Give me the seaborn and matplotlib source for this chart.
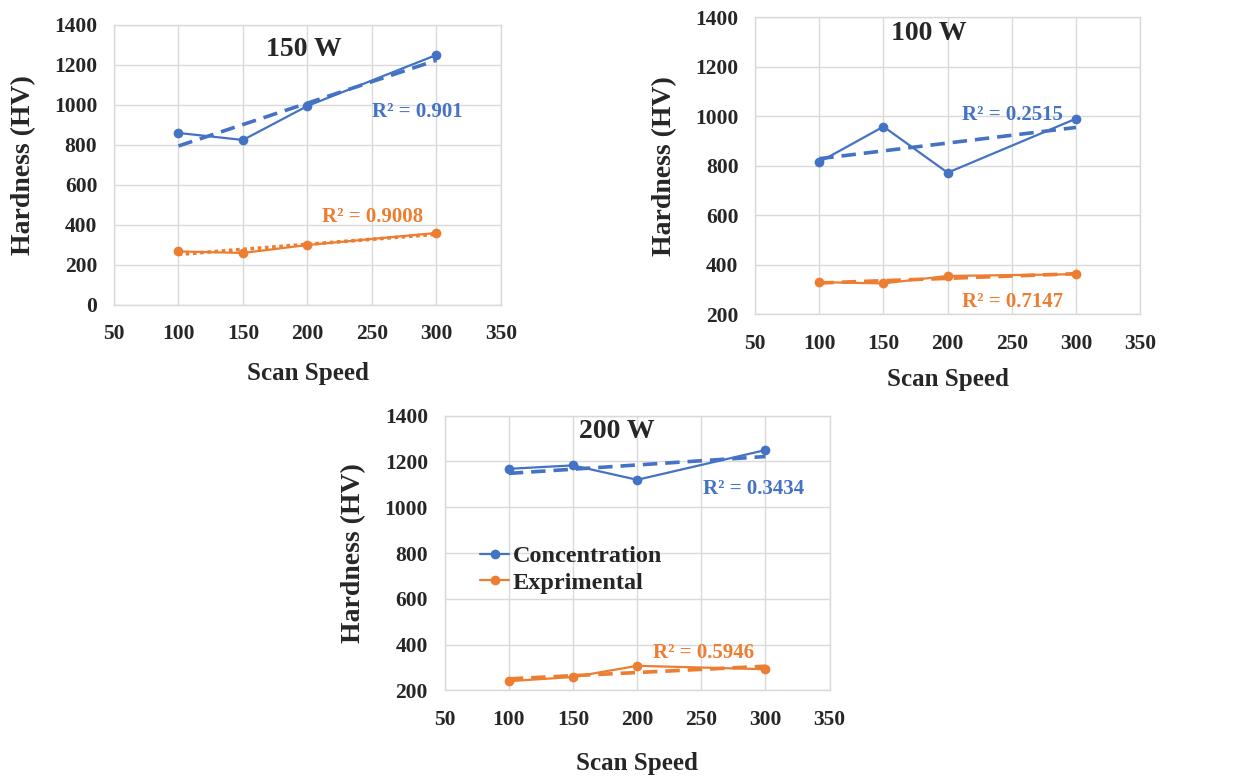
import numpy as np
import pandas as pd
import seaborn as sns
import matplotlib.pyplot as plt

# scan speeds used in all three panels
speed = [100, 150, 200, 300]

# hardness (HV)
conc_150 = [860, 825, 995, 1250]
expr_150 = [268, 260, 300, 360]
conc_100 = [815, 958, 772, 990]
expr_100 = [330, 325, 355, 362]
conc_200 = [1168, 1183, 1120, 1250]
expr_200 = [240, 258, 307, 292]

r2_labels = {
    "150 W": ("R² = 0.901", "R² = 0.9008"),
    "100 W": ("R² = 0.2515", "R² = 0.7147"),
    "200 W": ("R² = 0.3434", "R² = 0.5946"),
}

BLUE = "#4472C4"
ORANGE = "#ED7D31"
GRID = "#D9D9D9"

sns.set_theme(style="whitegrid", rc={"grid.color": GRID, "axes.edgecolor": GRID,
                                     "axes.linewidth": 1.0, "grid.linewidth": 1.0})
plt.rcParams["font.family"] = ["Liberation Serif", "DejaVu Serif"]
plt.rcParams["font.weight"] = "bold"

fig = plt.figure(figsize=(12.42, 7.8), dpi=100)

# [left, bottom, width, height] in figure coords
panels = [
    ("150 W", conc_150, expr_150, [0.0918, 0.609, 0.3115, 0.359], 0, ":", (197, 1275), ((250, 965), (211, 440)), 13),
    ("100 W", conc_100, expr_100, [0.608, 0.597, 0.310, 0.381], 200, "--", (185, 1335), ((211, 1004), (211, 249)), 10),
    ("200 W", conc_200, expr_200, [0.358, 0.115, 0.310, 0.352], 200, "--", (184, 1330), ((251, 1080), (212, 362)), 16),
]

for name, conc, expr, rect, ymin, orange_ls, title_pos, r2_pos, xpad in panels:
    ax = fig.add_axes(rect)
    df = pd.DataFrame({"speed": speed * 2,
                       "hardness": conc + expr,
                       "series": ["Concentration"] * 4 + ["Exprimental"] * 4})

    # linear trendlines
    sns.regplot(x=speed, y=conc, scatter=False, ci=None, ax=ax, color=BLUE,
                line_kws={"ls": (0, (4, 2.2)), "lw": 2.6})
    sns.regplot(x=speed, y=expr, scatter=False, ci=None, ax=ax, color=ORANGE,
                line_kws={"ls": (0, (1, 1)) if orange_ls == ":" else (0, (4, 2.2)), "lw": 2.6})

    sns.lineplot(data=df, x="speed", y="hardness", hue="series",
                 palette=[BLUE, ORANGE], marker="o", markersize=7,
                 markeredgewidth=0, lw=1.6, ax=ax, legend=(name == "200 W"))

    ax.set_xlim(50, 350)
    ax.set_ylim(ymin, 1400)
    ax.set_xticks(np.arange(50, 351, 50))
    ax.set_yticks(np.arange(ymin, 1401, 200))
    ax.tick_params(axis="both", length=0, labelsize=15.5)
    ax.tick_params(axis="x", pad=14)
    ax.tick_params(axis="y", pad=12)
    for lab in ax.get_xticklabels() + ax.get_yticklabels():
        lab.set_fontweight("bold")

    ax.set_xlabel("Scan Speed", fontsize=18, fontweight="bold", labelpad=xpad)
    ax.set_ylabel("Hardness (HV)", fontsize=20, fontweight="bold", labelpad=13)

    ax.text(*title_pos, name, ha="center", va="center", fontsize=20, fontweight="bold")
    ax.text(*r2_pos[0], r2_labels[name][0], color=BLUE, ha="left", va="center",
            fontsize=15, fontweight="bold")
    ax.text(*r2_pos[1], r2_labels[name][1], color=ORANGE, ha="left", va="center",
            fontsize=15, fontweight="bold")

    if name == "200 W":
        ax.legend(loc="center left", bbox_to_anchor=(0.035, 0.44), frameon=False,
                  handlelength=1.2, handletextpad=0.15, labelspacing=0.2,
                  prop={"size": 17.5, "weight": "bold"}, title=None)

fig.savefig("out.png", dpi=100, facecolor="white")
